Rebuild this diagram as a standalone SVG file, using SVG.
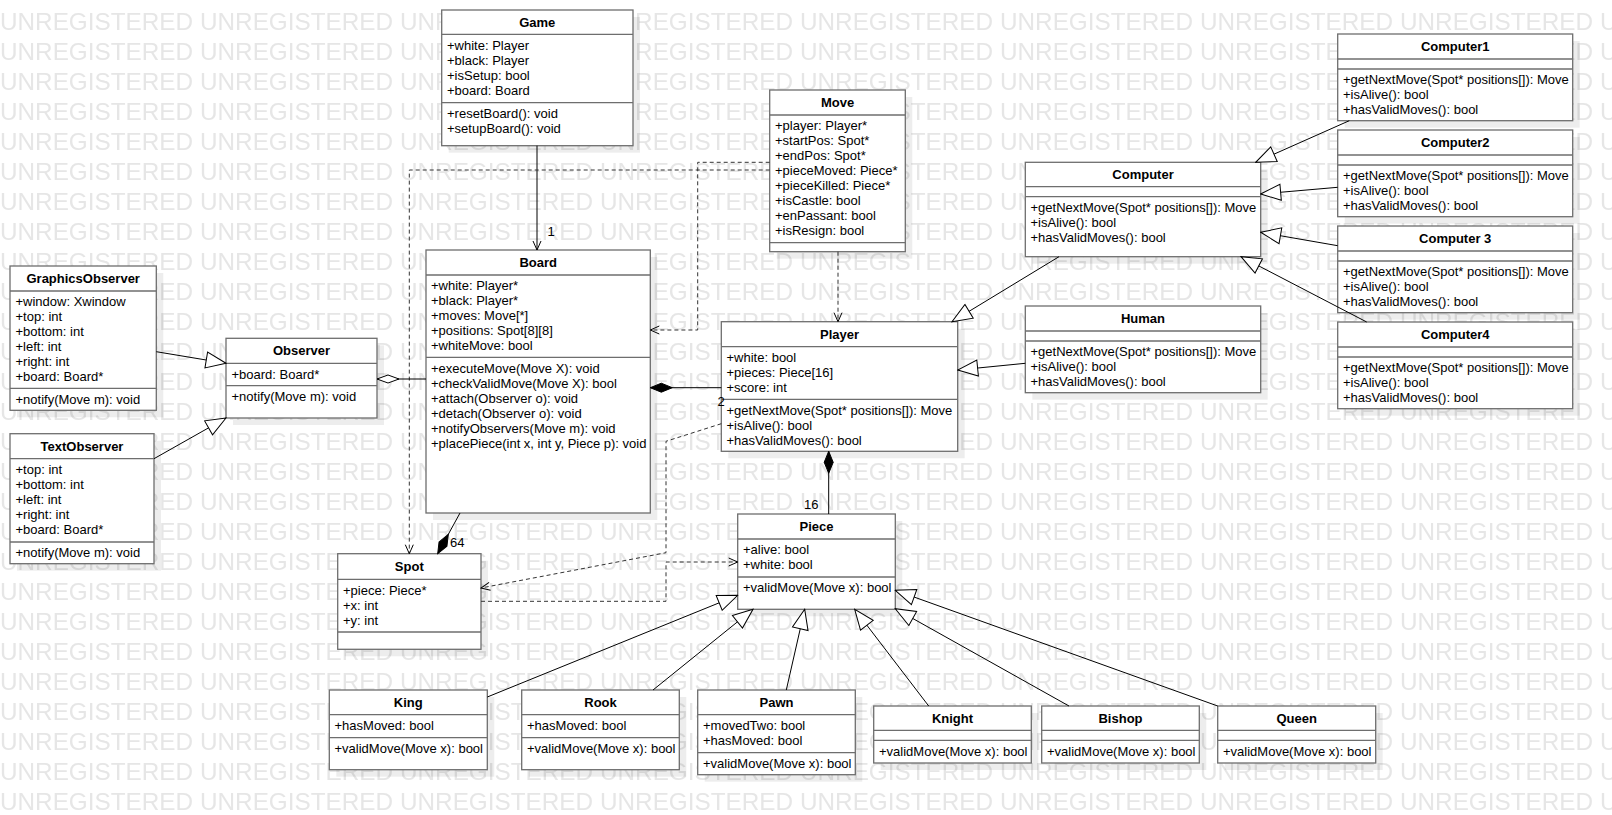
<svg xmlns="http://www.w3.org/2000/svg" width="1612" height="815" viewBox="0 0 1612 815">
<style>
.wm{font-family:"Liberation Sans",Arial,sans-serif;font-size:24.3px;fill:#e6e6e6}
.sh{fill:#000;fill-opacity:.07}
.bx{fill:#fff;stroke:#6e6e6e;stroke-width:1.3}
.sep{stroke:#6e6e6e;stroke-width:1.3}
text{font-family:"Liberation Sans",Arial,Helvetica,sans-serif;font-size:13px;fill:#000}
.ti{font-weight:bold;text-anchor:middle}
.cn{fill:none;stroke:#000;stroke-width:1}
.dp{stroke:#333;stroke-dasharray:4 3}
.lb{text-anchor:middle}
</style>
<defs>
<pattern id="wmp" x="0" y="5" width="200" height="30" patternUnits="userSpaceOnUse"><text class="wm" x="0" y="25">UNREGISTERED</text></pattern>
<marker id="gen" viewBox="-21 -9 22 18" markerWidth="22" markerHeight="18" refX="0" refY="0" orient="auto" markerUnits="userSpaceOnUse"><path d="M0,0 L-20,-8 L-20,8 Z" fill="#fff" stroke="#000" stroke-width="1"/></marker>
<marker id="open" viewBox="-11 -6 12 12" markerWidth="12" markerHeight="12" refX="0" refY="0" orient="auto" markerUnits="userSpaceOnUse"><path d="M-9,-4 L0,0 L-9,4" fill="none" stroke="#000" stroke-width="1"/></marker>
<marker id="comp" viewBox="-1 -6 24 12" markerWidth="24" markerHeight="12" refX="0" refY="0" orient="auto" markerUnits="userSpaceOnUse"><path d="M0,0 L11,-4.5 L22,0 L11,4.5 Z" fill="#000" stroke="#000" stroke-width="1"/></marker>
<marker id="agg" viewBox="-1 -6 24 12" markerWidth="24" markerHeight="12" refX="0" refY="0" orient="auto" markerUnits="userSpaceOnUse"><path d="M0,0 L11,-4 L22,0 L11,4 Z" fill="#fff" stroke="#000" stroke-width="1"/></marker>
</defs>
<rect width="1612" height="815" fill="#fff"/>
<rect width="1612" height="815" fill="url(#wmp)"/>

<g id="Game">
<rect class="sh" x="448.7" y="17" width="191.3" height="135.7"/>
<rect class="bx" x="441.7" y="10" width="191.3" height="135.7"/>
<line class="sep" x1="441.7" y1="34.3" x2="633" y2="34.3"/><line class="sep" x1="441.7" y1="102.7" x2="633" y2="102.7"/>
<text class="ti" x="537.3" y="27">Game</text>
<text x="447" y="49.6">+white: Player</text><text x="447" y="64.6">+black: Player</text><text x="447" y="79.6">+isSetup: bool</text><text x="447" y="94.6">+board: Board</text>
<text x="447" y="118">+resetBoard(): void</text><text x="447" y="133">+setupBoard(): void</text>
</g>

<g id="Move">
<rect class="sh" x="776.7" y="97" width="135.6" height="161.7"/>
<rect class="bx" x="769.7" y="90" width="135.6" height="161.7"/>
<line class="sep" x1="769.7" y1="115" x2="905.3" y2="115"/><line class="sep" x1="769.7" y1="242.7" x2="905.3" y2="242.7"/>
<text class="ti" x="837.5" y="107">Move</text>
<text x="775" y="130.3">+player: Player*</text><text x="775" y="145.3">+startPos: Spot*</text><text x="775" y="160.3">+endPos: Spot*</text><text x="775" y="175.3">+pieceMoved: Piece*</text><text x="775" y="190.3">+pieceKilled: Piece*</text><text x="775" y="205.3">+isCastle: bool</text><text x="775" y="220.3">+enPassant: bool</text><text x="775" y="235.3">+isResign: bool</text>
</g>

<g id="Board">
<rect class="sh" x="433" y="257" width="224.3" height="263"/>
<rect class="bx" x="426" y="250" width="224.3" height="263"/>
<line class="sep" x1="426" y1="275" x2="650.3" y2="275"/><line class="sep" x1="426" y1="357.3" x2="650.3" y2="357.3"/>
<text class="ti" x="538.2" y="267">Board</text>
<text x="431" y="290.3">+white: Player*</text><text x="431" y="305.3">+black: Player*</text><text x="431" y="320.3">+moves: Move[*]</text><text x="431" y="335.3">+positions: Spot[8][8]</text><text x="431" y="350.3">+whiteMove: bool</text>
<text x="431" y="372.6">+executeMove(Move X): void</text><text x="431" y="387.6">+checkValidMove(Move X): bool</text><text x="431" y="402.6">+attach(Observer o): void</text><text x="431" y="417.6">+detach(Observer o): void</text><text x="431" y="432.6">+notifyObservers(Move m): void</text><text x="431" y="447.6">+placePiece(int x, int y, Piece p): void</text>
</g>

<g id="Player">
<rect class="sh" x="728.3" y="328.7" width="236.4" height="129.6"/>
<rect class="bx" x="721.3" y="321.7" width="236.4" height="129.6"/>
<line class="sep" x1="721.3" y1="346.7" x2="957.7" y2="346.7"/><line class="sep" x1="721.3" y1="399.3" x2="957.7" y2="399.3"/>
<text class="ti" x="839.5" y="338.7">Player</text>
<text x="726.5" y="362">+white: bool</text><text x="726.5" y="377">+pieces: Piece[16]</text><text x="726.5" y="392">+score: int</text>
<text x="726.5" y="414.6">+getNextMove(Spot* positions[]): Move</text><text x="726.5" y="429.6">+isAlive(): bool</text><text x="726.5" y="444.6">+hasValidMoves(): bool</text>
</g>

<g id="Computer">
<rect class="sh" x="1032.3" y="169.3" width="235.4" height="94.4"/>
<rect class="bx" x="1025.3" y="162.3" width="235.4" height="94.4"/>
<line class="sep" x1="1025.3" y1="186.7" x2="1260.7" y2="186.7"/><line class="sep" x1="1025.3" y1="196.7" x2="1260.7" y2="196.7"/>
<text class="ti" x="1143" y="179.3">Computer</text>
<text x="1030.5" y="212">+getNextMove(Spot* positions[]): Move</text><text x="1030.5" y="227">+isAlive(): bool</text><text x="1030.5" y="242">+hasValidMoves(): bool</text>
</g>

<g id="Human">
<rect class="sh" x="1032.3" y="313" width="235.4" height="86.7"/>
<rect class="bx" x="1025.3" y="306" width="235.4" height="86.7"/>
<line class="sep" x1="1025.3" y1="331" x2="1260.7" y2="331"/><line class="sep" x1="1025.3" y1="341" x2="1260.7" y2="341"/>
<text class="ti" x="1143" y="323">Human</text>
<text x="1030.5" y="356.3">+getNextMove(Spot* positions[]): Move</text><text x="1030.5" y="371.3">+isAlive(): bool</text><text x="1030.5" y="386.3">+hasValidMoves(): bool</text>
</g>

<g id="Computer1">
<rect class="sh" x="1344.7" y="41" width="235" height="86.7"/>
<rect class="bx" x="1337.7" y="34" width="235" height="86.7"/>
<line class="sep" x1="1337.7" y1="59" x2="1572.7" y2="59"/><line class="sep" x1="1337.7" y1="69" x2="1572.7" y2="69"/>
<text class="ti" x="1455.2" y="51">Computer1</text>
<text x="1343" y="84.3">+getNextMove(Spot* positions[]): Move</text><text x="1343" y="99.3">+isAlive(): bool</text><text x="1343" y="114.3">+hasValidMoves(): bool</text>
</g>

<g id="Computer2">
<rect class="sh" x="1344.7" y="137" width="235" height="86.7"/>
<rect class="bx" x="1337.7" y="130" width="235" height="86.7"/>
<line class="sep" x1="1337.7" y1="155" x2="1572.7" y2="155"/><line class="sep" x1="1337.7" y1="165" x2="1572.7" y2="165"/>
<text class="ti" x="1455.2" y="147">Computer2</text>
<text x="1343" y="180.3">+getNextMove(Spot* positions[]): Move</text><text x="1343" y="195.3">+isAlive(): bool</text><text x="1343" y="210.3">+hasValidMoves(): bool</text>
</g>

<g id="Computer3">
<rect class="sh" x="1344.7" y="233" width="235" height="86.7"/>
<rect class="bx" x="1337.7" y="226" width="235" height="86.7"/>
<line class="sep" x1="1337.7" y1="251" x2="1572.7" y2="251"/><line class="sep" x1="1337.7" y1="261" x2="1572.7" y2="261"/>
<text class="ti" x="1455.2" y="243">Computer 3</text>
<text x="1343" y="276.3">+getNextMove(Spot* positions[]): Move</text><text x="1343" y="291.3">+isAlive(): bool</text><text x="1343" y="306.3">+hasValidMoves(): bool</text>
</g>

<g id="Computer4">
<rect class="sh" x="1344.7" y="329" width="235" height="86.7"/>
<rect class="bx" x="1337.7" y="322" width="235" height="86.7"/>
<line class="sep" x1="1337.7" y1="347" x2="1572.7" y2="347"/><line class="sep" x1="1337.7" y1="357" x2="1572.7" y2="357"/>
<text class="ti" x="1455.2" y="339">Computer4</text>
<text x="1343" y="372.3">+getNextMove(Spot* positions[]): Move</text><text x="1343" y="387.3">+isAlive(): bool</text><text x="1343" y="402.3">+hasValidMoves(): bool</text>
</g>

<g id="GraphicsObserver">
<rect class="sh" x="17" y="273" width="146.3" height="144.3"/>
<rect class="bx" x="10" y="266" width="146.3" height="144.3"/>
<line class="sep" x1="10" y1="291" x2="156.3" y2="291"/><line class="sep" x1="10" y1="388.3" x2="156.3" y2="388.3"/>
<text class="ti" x="83.2" y="283">GraphicsObserver</text>
<text x="15.5" y="306.3">+window: Xwindow</text><text x="15.5" y="321.3">+top: int</text><text x="15.5" y="336.3">+bottom: int</text><text x="15.5" y="351.3">+left: int</text><text x="15.5" y="366.3">+right: int</text><text x="15.5" y="381.3">+board: Board*</text>
<text x="15.5" y="403.6">+notify(Move m): void</text>
</g>

<g id="Observer">
<rect class="sh" x="233" y="345.3" width="151" height="79.7"/>
<rect class="bx" x="226" y="338.3" width="151" height="79.7"/>
<line class="sep" x1="226" y1="363.3" x2="377" y2="363.3"/><line class="sep" x1="226" y1="385.7" x2="377" y2="385.7"/>
<text class="ti" x="301.5" y="355.3">Observer</text>
<text x="231.5" y="378.6">+board: Board*</text>
<text x="231.5" y="401">+notify(Move m): void</text>
</g>

<g id="TextObserver">
<rect class="sh" x="17" y="440.7" width="144" height="130"/>
<rect class="bx" x="10" y="433.7" width="144" height="130"/>
<line class="sep" x1="10" y1="458.7" x2="154" y2="458.7"/><line class="sep" x1="10" y1="542" x2="154" y2="542"/>
<text class="ti" x="82" y="450.7">TextObserver</text>
<text x="15.5" y="474">+top: int</text><text x="15.5" y="489">+bottom: int</text><text x="15.5" y="504">+left: int</text><text x="15.5" y="519">+right: int</text><text x="15.5" y="534">+board: Board*</text>
<text x="15.5" y="557.3">+notify(Move m): void</text>
</g>

<g id="Spot">
<rect class="sh" x="344.7" y="560.7" width="143.3" height="95.6"/>
<rect class="bx" x="337.7" y="553.7" width="143.3" height="95.6"/>
<line class="sep" x1="337.7" y1="579.3" x2="481" y2="579.3"/><line class="sep" x1="337.7" y1="632" x2="481" y2="632"/>
<text class="ti" x="409.3" y="570.7">Spot</text>
<text x="343" y="594.6">+piece: Piece*</text><text x="343" y="609.6">+x: int</text><text x="343" y="624.6">+y: int</text>
</g>

<g id="Piece">
<rect class="sh" x="744.7" y="521" width="157.6" height="95.3"/>
<rect class="bx" x="737.7" y="514" width="157.6" height="95.3"/>
<line class="sep" x1="737.7" y1="539" x2="895.3" y2="539"/><line class="sep" x1="737.7" y1="577" x2="895.3" y2="577"/>
<text class="ti" x="816.5" y="531">Piece</text>
<text x="743" y="554.3">+alive: bool</text><text x="743" y="569.3">+white: bool</text>
<text x="743" y="592.3">+validMove(Move x): bool</text>
</g>

<g id="King">
<rect class="sh" x="336.3" y="697" width="158" height="79.7"/>
<rect class="bx" x="329.3" y="690" width="158" height="79.7"/>
<line class="sep" x1="329.3" y1="714.7" x2="487.3" y2="714.7"/><line class="sep" x1="329.3" y1="737.7" x2="487.3" y2="737.7"/>
<text class="ti" x="408.3" y="707">King</text>
<text x="334.5" y="730">+hasMoved: bool</text>
<text x="334.5" y="753">+validMove(Move x): bool</text>
</g>

<g id="Rook">
<rect class="sh" x="528.7" y="697" width="157.6" height="79.7"/>
<rect class="bx" x="521.7" y="690" width="157.6" height="79.7"/>
<line class="sep" x1="521.7" y1="714.7" x2="679.3" y2="714.7"/><line class="sep" x1="521.7" y1="737.7" x2="679.3" y2="737.7"/>
<text class="ti" x="600.5" y="707">Rook</text>
<text x="527" y="730">+hasMoved: bool</text>
<text x="527" y="753">+validMove(Move x): bool</text>
</g>

<g id="Pawn">
<rect class="sh" x="704.7" y="697" width="157.6" height="84.7"/>
<rect class="bx" x="697.7" y="690" width="157.6" height="84.7"/>
<line class="sep" x1="697.7" y1="714.7" x2="855.3" y2="714.7"/><line class="sep" x1="697.7" y1="752.7" x2="855.3" y2="752.7"/>
<text class="ti" x="776.5" y="707">Pawn</text>
<text x="703" y="730">+movedTwo: bool</text><text x="703" y="745">+hasMoved: bool</text>
<text x="703" y="768">+validMove(Move x): bool</text>
</g>

<g id="Knight">
<rect class="sh" x="880.7" y="713" width="157.6" height="57"/>
<rect class="bx" x="873.7" y="706" width="157.6" height="57"/>
<line class="sep" x1="873.7" y1="730.3" x2="1031.3" y2="730.3"/><line class="sep" x1="873.7" y1="740.3" x2="1031.3" y2="740.3"/>
<text class="ti" x="952.5" y="723">Knight</text>
<text x="879" y="755.6">+validMove(Move x): bool</text>
</g>

<g id="Bishop">
<rect class="sh" x="1048.7" y="713" width="157.6" height="57"/>
<rect class="bx" x="1041.7" y="706" width="157.6" height="57"/>
<line class="sep" x1="1041.7" y1="730.3" x2="1199.3" y2="730.3"/><line class="sep" x1="1041.7" y1="740.3" x2="1199.3" y2="740.3"/>
<text class="ti" x="1120.5" y="723">Bishop</text>
<text x="1047" y="755.6">+validMove(Move x): bool</text>
</g>

<g id="Queen">
<rect class="sh" x="1224.7" y="713" width="158" height="57"/>
<rect class="bx" x="1217.7" y="706" width="158" height="57"/>
<line class="sep" x1="1217.7" y1="730.3" x2="1375.7" y2="730.3"/><line class="sep" x1="1217.7" y1="740.3" x2="1375.7" y2="740.3"/>
<text class="ti" x="1296.7" y="723">Queen</text>
<text x="1223" y="755.6">+validMove(Move x): bool</text>
</g>

<g id="connectors">
<path class="cn" d="M537,145.7 V250" marker-end="url(#open)"/>
<path class="cn dp" d="M769.7,162.3 H697.7 V330 H650.3" marker-end="url(#open)"/>
<path class="cn dp" d="M769.7,170 H409.3 V553.7" marker-end="url(#open)"/>
<path class="cn dp" d="M838,251.7 V321.7" marker-end="url(#open)"/>
<path class="cn" d="M650.3,387.7 H721.3" marker-start="url(#comp)"/>
<path class="cn" d="M377,379 H426" marker-start="url(#agg)"/>
<path class="cn" d="M437.7,553.7 L460,513" marker-start="url(#comp)"/>
<path class="cn" d="M828.7,451.3 V514" marker-start="url(#comp)"/>
<path class="cn dp" d="M721.3,423.7 L666,441.3 V552.7 L481,588" marker-end="url(#open)"/>
<path class="cn dp" d="M481,601.3 H666 V562 H737.7" marker-end="url(#open)"/>
<path class="cn" d="M156.3,351.7 L226,363.3" marker-end="url(#gen)"/>
<path class="cn" d="M154,458.7 L226,418" marker-end="url(#gen)"/>
<path class="cn" d="M1059,256.7 L952,321.7" marker-end="url(#gen)"/>
<path class="cn" d="M1025.3,363.3 L957.7,370" marker-end="url(#gen)"/>
<path class="cn" d="M1349.3,120.7 L1255.7,162.3" marker-end="url(#gen)"/>
<path class="cn" d="M1337.7,187.3 L1260.7,194" marker-end="url(#gen)"/>
<path class="cn" d="M1337.7,245.7 L1260.7,232.3" marker-end="url(#gen)"/>
<path class="cn" d="M1366.7,322 L1241,256.7" marker-end="url(#gen)"/>
<path class="cn" d="M487.3,697 L737.7,595.3" marker-end="url(#gen)"/>
<path class="cn" d="M653,690 L753,609.3" marker-end="url(#gen)"/>
<path class="cn" d="M786.3,690 L804.7,609.3" marker-end="url(#gen)"/>
<path class="cn" d="M928.7,706 L854.7,609.3" marker-end="url(#gen)"/>
<path class="cn" d="M1069,706 L895.3,608.7" marker-end="url(#gen)"/>
<path class="cn" d="M1217.7,706 L895.3,590.3" marker-end="url(#gen)"/>
<text class="lb" x="551" y="236.3">1</text>
<text class="lb" x="721" y="406.3">2</text>
<text x="450" y="547.3">64</text>
<text class="lb" x="811.3" y="509">16</text>
</g>
</svg>
